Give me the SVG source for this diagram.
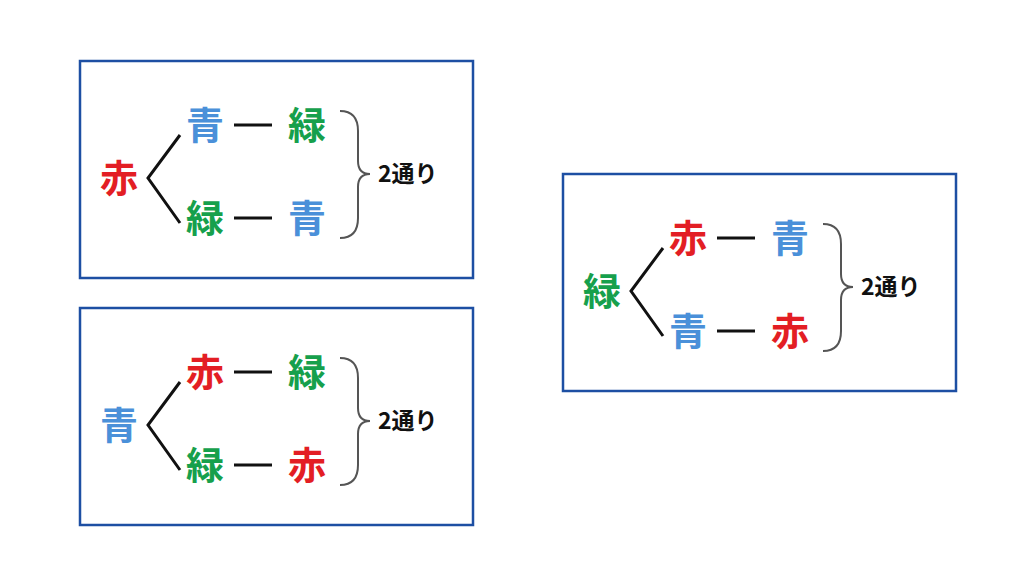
<svg xmlns="http://www.w3.org/2000/svg" width="1024" height="576" viewBox="0 0 1024 576">
<style>
.box{fill:#fff;stroke:#1d4fa3;stroke-width:2.5}
.k{font-family:"Noto Sans CJK JP","Noto Sans",sans-serif;font-weight:bold;font-size:38px;text-anchor:middle}
.r{fill:#e31e24}.b{fill:#4a90d9}.g{fill:#16a04c}
.l{font-family:"Noto Sans CJK JP","Noto Sans",sans-serif;font-weight:bold;font-size:23px;fill:#111}
.ln{stroke:#111;stroke-width:3;fill:none}
.br{stroke:#555;stroke-width:2;fill:none}
</style>
<defs>
<g id="frame">
<rect class="box" x="0" y="0" width="393" height="217"/>
<path class="ln" d="M100,74 L68,117 L100,162"/>
<path class="ln" d="M154,64 H192 M154,157 H192"/>
<path class="br" d="M260,50 Q278,50 278,70 V100 Q278,113 290,113 Q278,113 278,126 V157 Q278,177 260,177"/>
<text class="l" x="298" y="121">2通り</text>
</g>
</defs>
<rect width="1024" height="576" fill="#fff"/>
<g id="node-aka" transform="translate(80,61)">
<use href="#frame"/>
<text class="k r" x="39" y="131">赤</text>
<text class="k b" x="125" y="78">青</text><text class="k g" x="227" y="78">緑</text>
<text class="k g" x="125" y="171">緑</text><text class="k b" x="227" y="171">青</text>
</g>
<g id="node-ao" transform="translate(80,308)">
<use href="#frame"/>
<text class="k b" x="39" y="131">青</text>
<text class="k r" x="125" y="78">赤</text><text class="k g" x="227" y="78">緑</text>
<text class="k g" x="125" y="171">緑</text><text class="k r" x="227" y="171">赤</text>
</g>
<g id="node-midori" transform="translate(563,174)">
<use href="#frame"/>
<text class="k g" x="39" y="131">緑</text>
<text class="k r" x="125" y="78">赤</text><text class="k b" x="227" y="78">青</text>
<text class="k b" x="125" y="171">青</text><text class="k r" x="227" y="171">赤</text>
</g>
<g id="connectors"></g>
</svg>
